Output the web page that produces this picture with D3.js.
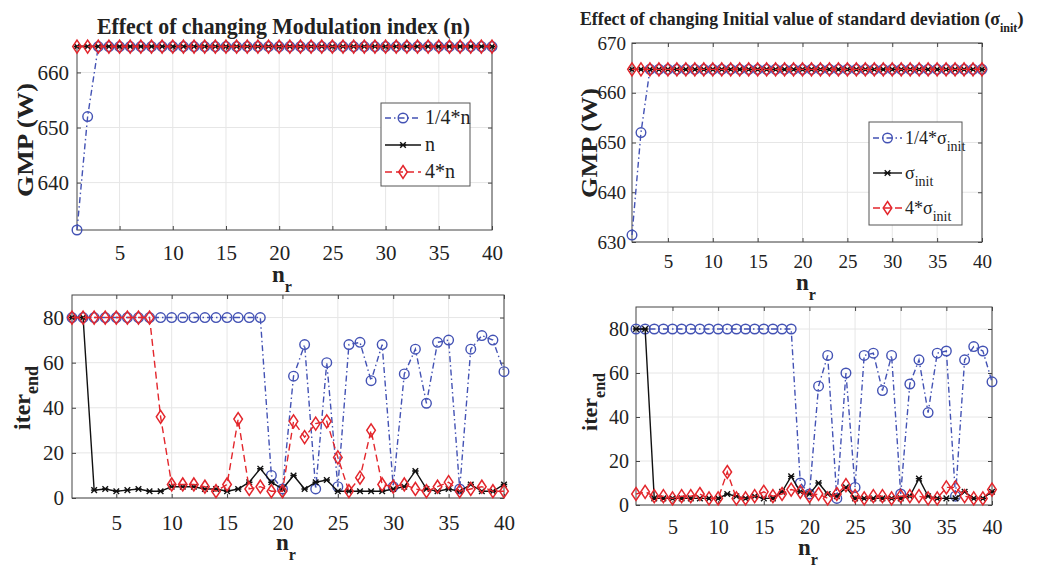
<!DOCTYPE html>
<html>
<head>
<meta charset="utf-8">
<script src="https://cdn.jsdelivr.net/npm/d3@7"></script>
<style>
body { margin: 0; background: #fff; }
svg { display: block; }
text { font-family: "Liberation Serif", "DejaVu Serif", serif; fill: #222; }
</style>
</head>
<body>
<svg id="chart" width="1060" height="567"></svg>
<script>
// runs n_r = 1..40
var nr = [1,2,3,4,5,6,7,8,9,10,11,12,13,14,15,16,17,18,19,20,
          21,22,23,24,25,26,27,28,29,30,31,32,33,34,35,36,37,38,39,40];
var xTicks = [5, 10, 15, 20, 25, 30, 35, 40];

// GMP (W), modulation index panel
var gmpNQuarter = [631.4,652,664.7,664.7,664.7,664.7,664.7,664.7,664.7,664.7,664.7,664.7,664.7,664.7,664.7,664.7,664.7,664.7,664.7,664.7,
                   664.7,664.7,664.7,664.7,664.7,664.7,664.7,664.7,664.7,664.7,664.7,664.7,664.7,664.7,664.7,664.7,664.7,664.7,664.7,664.7];
var gmpNBase    = [664.7,664.7,664.7,664.7,664.7,664.7,664.7,664.7,664.7,664.7,664.7,664.7,664.7,664.7,664.7,664.7,664.7,664.7,664.7,664.7,
                   664.7,664.7,664.7,664.7,664.7,664.7,664.7,664.7,664.7,664.7,664.7,664.7,664.7,664.7,664.7,664.7,664.7,664.7,664.7,664.7];
var gmpNFour    = [664.7,664.7,664.7,664.7,664.7,664.7,664.7,664.7,664.7,664.7,664.7,664.7,664.7,664.7,664.7,664.7,664.7,664.7,664.7,664.7,
                   664.7,664.7,664.7,664.7,664.7,664.7,664.7,664.7,664.7,664.7,664.7,664.7,664.7,664.7,664.7,664.7,664.7,664.7,664.7,664.7];

// GMP (W), sigma_init panel
var gmpSQuarter = [631.4,652,664.7,664.7,664.7,664.7,664.7,664.7,664.7,664.7,664.7,664.7,664.7,664.7,664.7,664.7,664.7,664.7,664.7,664.7,
                   664.7,664.7,664.7,664.7,664.7,664.7,664.7,664.7,664.7,664.7,664.7,664.7,664.7,664.7,664.7,664.7,664.7,664.7,664.7,664.7];
var gmpSBase    = [664.7,664.7,664.7,664.7,664.7,664.7,664.7,664.7,664.7,664.7,664.7,664.7,664.7,664.7,664.7,664.7,664.7,664.7,664.7,664.7,
                   664.7,664.7,664.7,664.7,664.7,664.7,664.7,664.7,664.7,664.7,664.7,664.7,664.7,664.7,664.7,664.7,664.7,664.7,664.7,664.7];
var gmpSFour    = [664.7,664.7,664.7,664.7,664.7,664.7,664.7,664.7,664.7,664.7,664.7,664.7,664.7,664.7,664.7,664.7,664.7,664.7,664.7,664.7,
                   664.7,664.7,664.7,664.7,664.7,664.7,664.7,664.7,664.7,664.7,664.7,664.7,664.7,664.7,664.7,664.7,664.7,664.7,664.7,664.7];

// iter_end, modulation index panel
var iterNQuarter = [80,80,80,80,80,80,80,80,80,80,80,80,80,80,80,80,80,80,10,4,
                    54,68,4,60,5,68,69,52,68,5,55,66,42,69,70,4,66,72,70,56];
var iterNBase    = [80,80,3.5,4,3,3.5,4,3,3,5,5,5,4,4,3,4,7,13,7,4,
                    10,4,7,8,3,3,3,3,3,4,5,12,4,3,4,3,6,3,3,6];
var iterNFour    = [80,80,80,80,80,80,80,80,36,6,6,6,5,3,6,35,4,5,3,3,
                    34,27,33,34,18,3,9,30,6,5,6,4,3,5,7,3,4,5,3,3];

// iter_end, sigma_init panel
var iterSQuarter = [80,80,80,80,80,80,80,80,80,80,80,80,80,80,80,80,80,80,10,5,
                    54,68,3,60,8,68,69,52,68,5,55,66,42,69,70,4,66,72,70,56];
var iterSBase    = [80,80,3,3,3,3,3,3,3,3,5,4,3,4,3,3,6,13,6,5,
                    10,5,4,8,3,3,3,3,3,3,4,12,4,3,3,3,6,3,3,6];
var iterSFour    = [5,6,4,4,3,4,4,5,3,3,15,3,3,4,6,4,5,7,6,4,
                    5,3,5,9,4,3,4,4,3,4,4,4,3,3,8,8,4,3,3,7];

var BLUE = "#4352b4", RED = "#e3262c", BLACK = "#111";
var SERIF = "'Liberation Serif', 'DejaVu Serif', serif";

var svg = d3.select("#chart");

function seriesStyles(vals) {
    return [
        {values: vals[0], color: BLUE, dash: "6,3,1.5,3", marker: "circle"},
        {values: vals[1], color: BLACK, dash: null, marker: "x"},
        {values: vals[2], color: RED, dash: "7,4", marker: "diamond"}
    ];
}

function drawMarker(g, type, cx, cy, color) {
    if (type == "circle") {
        g.append("circle").attr("cx", cx).attr("cy", cy).attr("r", 4.8)
            .attr("fill", "none").attr("stroke", color).attr("stroke-width", 1.4);
    } else if (type == "diamond") {
        g.append("path").attr("transform", "translate(" + cx + "," + cy + ")")
            .attr("d", "M0,-6.5L4.3,0L0,6.5L-4.3,0Z")
            .attr("fill", "none").attr("stroke", color).attr("stroke-width", 1.5);
    } else {
        g.append("path").attr("transform", "translate(" + cx + "," + cy + ")")
            .attr("d", "M-2.8,-2.8L2.8,2.8M-2.8,2.8L2.8,-2.8M-3.2,0L3.2,0")
            .attr("stroke", color).attr("stroke-width", 1.4);
    }
}

function drawPanel(p) {
    var x = d3.scaleLinear().domain([1, 40]).range([p.left, p.right]);
    var y = d3.scaleLinear().domain(p.yDomain).range([p.bottom, p.top]);
    var g = svg.append("g");

    // grid
    g.selectAll(".gx").data(xTicks).enter().append("line")
        .attr("x1", function(d) { return x(d); }).attr("x2", function(d) { return x(d); })
        .attr("y1", p.top).attr("y2", p.bottom)
        .attr("stroke", "#e6e6e6");
    g.selectAll(".gy").data(p.yTicks).enter().append("line")
        .attr("y1", function(d) { return y(d); }).attr("y2", function(d) { return y(d); })
        .attr("x1", p.left).attr("x2", p.right)
        .attr("stroke", "#e6e6e6");

    // axes (inward ticks, matlab style)
    var ax = g.append("g").attr("transform", "translate(0," + p.bottom + ")")
        .call(d3.axisBottom(x).tickValues(xTicks).tickSizeInner(-4).tickSizeOuter(0).tickPadding(p.xPad));
    var ay = g.append("g").attr("transform", "translate(" + p.left + ",0)")
        .call(d3.axisLeft(y).tickValues(p.yTicks).tickSizeInner(-4).tickSizeOuter(0).tickPadding(p.yPad));
    [ax, ay].forEach(function(a) {
        a.attr("font-family", SERIF).attr("font-size", p.tickFont);
        a.selectAll("text").attr("fill", "#222");
    });
    var at = g.append("g").attr("transform", "translate(0," + p.top + ")")
        .call(d3.axisTop(x).tickValues(xTicks).tickSizeInner(-4).tickSizeOuter(0).tickFormat(""));
    var ar = g.append("g").attr("transform", "translate(" + p.right + ",0)")
        .call(d3.axisRight(y).tickValues(p.yTicks).tickSizeInner(-4).tickSizeOuter(0).tickFormat(""));
    [ax, ay, at, ar].forEach(function(a) {
        a.select(".domain").remove();
        a.selectAll("line").attr("stroke", "#444");
    });
    g.append("rect").attr("x", p.left).attr("y", p.top)
        .attr("width", p.right - p.left).attr("height", p.bottom - p.top)
        .attr("fill", "none").attr("stroke", "#444").attr("stroke-width", 1);

    // series
    var line = d3.line().x(function(d, i) { return x(nr[i]); }).y(function(d) { return y(d); });
    seriesStyles(p.series).forEach(function(s) {
        var sg = g.append("g");
        sg.append("path").attr("d", line(s.values))
            .attr("fill", "none").attr("stroke", s.color).attr("stroke-width", 1.4)
            .attr("stroke-dasharray", s.dash);
        s.values.forEach(function(v, i) {
            drawMarker(sg, s.marker, x(nr[i]), y(v), s.color);
        });
    });

    // x label n_r
    var xl = g.append("text").attr("x", p.xLabel[0]).attr("y", p.xLabel[1])
        .attr("text-anchor", "middle").style("font-weight", "bold").style("font-size", "23px");
    xl.append("tspan").text("n");
    xl.append("tspan").attr("dy", 10).style("font-size", "16px").text("r");

    // y label
    var yl = g.append("text")
        .attr("transform", "translate(" + p.yLabel[0] + "," + p.yLabel[1] + ") rotate(-90)")
        .attr("text-anchor", "middle").style("font-weight", "bold").style("font-size", p.yFont + "px");
    yl.append("tspan").text(p.yText);
    if (p.ySub) yl.append("tspan").attr("dy", 8).style("font-size", (p.yFont - 6) + "px").text(p.ySub);
    if (p.yLen) yl.attr("textLength", p.yLen).attr("lengthAdjust", "spacingAndGlyphs");

    // legend
    if (p.legend) {
        var L = p.legend;
        var lg = g.append("g");
        lg.append("rect").attr("x", L.x).attr("y", L.y).attr("width", L.w).attr("height", L.h)
            .attr("fill", "#fff").attr("stroke", "#555").attr("stroke-width", 1);
        seriesStyles(p.series).forEach(function(s, i) {
            var ey = L.y + L.first + i * L.step;
            lg.append("line").attr("x1", L.x + L.lx0).attr("x2", L.x + L.lx1)
                .attr("y1", ey).attr("y2", ey)
                .attr("stroke", s.color).attr("stroke-width", 1.4).attr("stroke-dasharray", s.dash);
            drawMarker(lg, s.marker, L.x + (L.lx0 + L.lx1) / 2, ey, s.color);
            var t = lg.append("text").attr("x", L.x + L.tx).attr("y", ey + 6)
                .style("font-size", L.font + "px");
            t.append("tspan").text(L.labels[i][0]);
            if (L.labels[i][1]) {
                t.append("tspan").attr("dy", 7).style("font-size", (L.font - 4) + "px").text(L.labels[i][1]);
            }
        });
    }
}

drawPanel({
    left: 77, right: 492, top: 46, bottom: 230,
    yDomain: [631.4, 664.8], yTicks: [640, 650, 660],
    series: [gmpNQuarter, gmpNBase, gmpNFour],
    tickFont: 21, xPad: 15, yPad: 8,
    xLabel: [282, 282], yLabel: [33, 140], yText: "GMP (W)", yFont: 24, yLen: 114,
    legend: {x: 381, y: 103, w: 89, h: 83, first: 15, step: 27, lx0: 4, lx1: 40, tx: 44, font: 20,
             labels: [["1/4*n"], ["n"], ["4*n"]]}
});

drawPanel({
    left: 632, right: 982, top: 43, bottom: 242,
    yDomain: [630, 670], yTicks: [630, 640, 650, 660, 670],
    series: [gmpSQuarter, gmpSBase, gmpSFour],
    tickFont: 19, xPad: 13, yPad: 6,
    xLabel: [806, 290], yLabel: [597, 143], yText: "GMP (W)", yFont: 23, yLen: 110,
    legend: {x: 869, y: 122, w: 93, h: 103, first: 16, step: 35, lx0: 4, lx1: 33, tx: 36, font: 18,
             labels: [["1/4*σ", "init"], ["σ", "init"], ["4*σ", "init"]]}
});

drawPanel({
    left: 72, right: 504, top: 295, bottom: 498,
    yDomain: [0, 90], yTicks: [0, 20, 40, 60, 80],
    series: [iterNQuarter, iterNBase, iterNFour],
    tickFont: 21, xPad: 17, yPad: 8,
    xLabel: [286, 550], yLabel: [30, 398], yText: "iter", ySub: "end", yFont: 24
});

drawPanel({
    left: 636, right: 992, top: 307, bottom: 505,
    yDomain: [0, 90], yTicks: [0, 20, 40, 60, 80],
    series: [iterSQuarter, iterSBase, iterSFour],
    tickFont: 20, xPad: 15, yPad: 7,
    xLabel: [808, 555], yLabel: [597, 402], yText: "iter", ySub: "end", yFont: 22
});

// titles
svg.append("text").attr("x", 97).attr("y", 34)
    .attr("textLength", 373).attr("lengthAdjust", "spacingAndGlyphs")
    .style("font-weight", "bold").style("font-size", "23px")
    .text("Effect of changing Modulation index (n)");

var t2 = svg.append("text").attr("x", 580).attr("y", 25)
    .style("font-weight", "bold").style("font-size", "19px");
t2.append("tspan").attr("textLength", 420).attr("lengthAdjust", "spacingAndGlyphs")
    .text("Effect of changing Initial value of standard deviation (σ");
t2.append("tspan").attr("dy", 7).style("font-size", "12px").text("init");
t2.append("tspan").attr("dy", -7).text(")");
</script>
</body>
</html>
